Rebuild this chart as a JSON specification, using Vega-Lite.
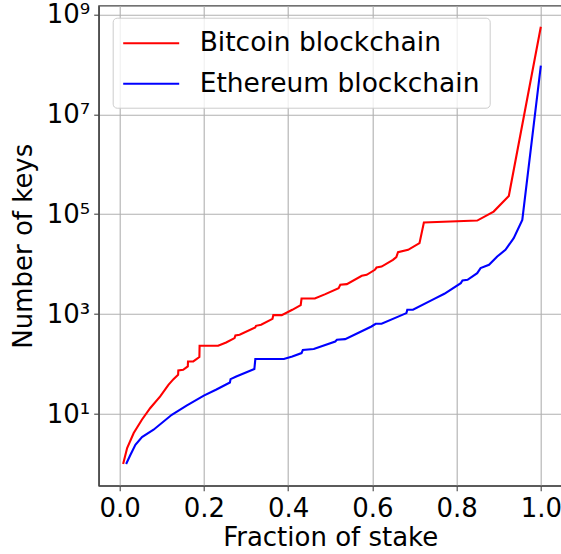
{
  "$schema": "https://vega.github.io/schema/vega-lite/v6.json",
  "width": 463,
  "height": 480,
  "autosize": "none",
  "padding": {"left": 98.7, "top": 5.7, "right": 0, "bottom": 68.3},
  "config": {
    "font": "DejaVu Sans",
    "view": {"stroke": "#444444", "strokeWidth": 1.3},
    "axis": {
      "labelFontSize": 26,
      "titleFontSize": 26,
      "titleFontWeight": "normal",
      "labelColor": "#000000",
      "titleColor": "#000000",
      "gridColor": "#b0b0b0",
      "gridWidth": 1.1,
      "domainColor": "#444444",
      "domainWidth": 1.3,
      "tickColor": "#444444",
      "tickSize": 5,
      "tickWidth": 1.1,
      "labelPadding": 5
    }
  },
  "data": {
    "values": [
      {"chain": "Bitcoin blockchain", "stake": 0.0085, "keys": 1},
      {"chain": "Bitcoin blockchain", "stake": 0.018, "keys": 2.09},
      {"chain": "Bitcoin blockchain", "stake": 0.0336, "keys": 4.17},
      {"chain": "Bitcoin blockchain", "stake": 0.053, "keys": 7.69},
      {"chain": "Bitcoin blockchain", "stake": 0.073, "keys": 13.2},
      {"chain": "Bitcoin blockchain", "stake": 0.0965, "keys": 22.5},
      {"chain": "Bitcoin blockchain", "stake": 0.116, "keys": 38.5},
      {"chain": "Bitcoin blockchain", "stake": 0.128, "keys": 50},
      {"chain": "Bitcoin blockchain", "stake": 0.139, "keys": 61.1},
      {"chain": "Bitcoin blockchain", "stake": 0.1395, "keys": 74.5},
      {"chain": "Bitcoin blockchain", "stake": 0.151, "keys": 76.9},
      {"chain": "Bitcoin blockchain", "stake": 0.162, "keys": 89.5},
      {"chain": "Bitcoin blockchain", "stake": 0.1625, "keys": 112.7},
      {"chain": "Bitcoin blockchain", "stake": 0.175, "keys": 112.7},
      {"chain": "Bitcoin blockchain", "stake": 0.1895, "keys": 138},
      {"chain": "Bitcoin blockchain", "stake": 0.19, "keys": 232},
      {"chain": "Bitcoin blockchain", "stake": 0.234, "keys": 232},
      {"chain": "Bitcoin blockchain", "stake": 0.253, "keys": 270},
      {"chain": "Bitcoin blockchain", "stake": 0.273, "keys": 331},
      {"chain": "Bitcoin blockchain", "stake": 0.275, "keys": 373},
      {"chain": "Bitcoin blockchain", "stake": 0.285, "keys": 385},
      {"chain": "Bitcoin blockchain", "stake": 0.322, "keys": 540},
      {"chain": "Bitcoin blockchain", "stake": 0.324, "keys": 583},
      {"chain": "Bitcoin blockchain", "stake": 0.336, "keys": 611},
      {"chain": "Bitcoin blockchain", "stake": 0.363, "keys": 805},
      {"chain": "Bitcoin blockchain", "stake": 0.365, "keys": 955},
      {"chain": "Bitcoin blockchain", "stake": 0.385, "keys": 955},
      {"chain": "Bitcoin blockchain", "stake": 0.41, "keys": 1219},
      {"chain": "Bitcoin blockchain", "stake": 0.43, "keys": 1514},
      {"chain": "Bitcoin blockchain", "stake": 0.432, "keys": 2051},
      {"chain": "Bitcoin blockchain", "stake": 0.4635, "keys": 2051},
      {"chain": "Bitcoin blockchain", "stake": 0.4885, "keys": 2512},
      {"chain": "Bitcoin blockchain", "stake": 0.52, "keys": 3311},
      {"chain": "Bitcoin blockchain", "stake": 0.524, "keys": 3855},
      {"chain": "Bitcoin blockchain", "stake": 0.5395, "keys": 3981},
      {"chain": "Bitcoin blockchain", "stake": 0.575, "keys": 5834},
      {"chain": "Bitcoin blockchain", "stake": 0.5866, "keys": 6109},
      {"chain": "Bitcoin blockchain", "stake": 0.606, "keys": 7691},
      {"chain": "Bitcoin blockchain", "stake": 0.61, "keys": 8551},
      {"chain": "Bitcoin blockchain", "stake": 0.622, "keys": 8954},
      {"chain": "Bitcoin blockchain", "stake": 0.649, "keys": 12190},
      {"chain": "Bitcoin blockchain", "stake": 0.657, "keys": 13800},
      {"chain": "Bitcoin blockchain", "stake": 0.661, "keys": 17380},
      {"chain": "Bitcoin blockchain", "stake": 0.685, "keys": 19320},
      {"chain": "Bitcoin blockchain", "stake": 0.712, "keys": 26300},
      {"chain": "Bitcoin blockchain", "stake": 0.7224, "keys": 67920},
      {"chain": "Bitcoin blockchain", "stake": 0.849, "keys": 74470},
      {"chain": "Bitcoin blockchain", "stake": 0.888, "keys": 112700},
      {"chain": "Bitcoin blockchain", "stake": 0.924, "keys": 232300},
      {"chain": "Bitcoin blockchain", "stake": 1.0, "keys": 565000000},
      {"chain": "Ethereum blockchain", "stake": 0.0156, "keys": 1},
      {"chain": "Ethereum blockchain", "stake": 0.0259, "keys": 1.53},
      {"chain": "Ethereum blockchain", "stake": 0.0376, "keys": 2.43},
      {"chain": "Ethereum blockchain", "stake": 0.0533, "keys": 3.47},
      {"chain": "Ethereum blockchain", "stake": 0.0807, "keys": 4.85},
      {"chain": "Ethereum blockchain", "stake": 0.124, "keys": 9.68},
      {"chain": "Ethereum blockchain", "stake": 0.159, "keys": 14.7},
      {"chain": "Ethereum blockchain", "stake": 0.2, "keys": 23.4},
      {"chain": "Ethereum blockchain", "stake": 0.23, "keys": 30.9},
      {"chain": "Ethereum blockchain", "stake": 0.262, "keys": 42.7},
      {"chain": "Ethereum blockchain", "stake": 0.2635, "keys": 50},
      {"chain": "Ethereum blockchain", "stake": 0.277, "keys": 56.5},
      {"chain": "Ethereum blockchain", "stake": 0.32, "keys": 79.4},
      {"chain": "Ethereum blockchain", "stake": 0.3223, "keys": 126},
      {"chain": "Ethereum blockchain", "stake": 0.39, "keys": 126},
      {"chain": "Ethereum blockchain", "stake": 0.41, "keys": 142},
      {"chain": "Ethereum blockchain", "stake": 0.432, "keys": 166},
      {"chain": "Ethereum blockchain", "stake": 0.435, "keys": 191},
      {"chain": "Ethereum blockchain", "stake": 0.461, "keys": 200},
      {"chain": "Ethereum blockchain", "stake": 0.512, "keys": 283},
      {"chain": "Ethereum blockchain", "stake": 0.516, "keys": 306},
      {"chain": "Ethereum blockchain", "stake": 0.5355, "keys": 316},
      {"chain": "Ethereum blockchain", "stake": 0.571, "keys": 437},
      {"chain": "Ethereum blockchain", "stake": 0.598, "keys": 565},
      {"chain": "Ethereum blockchain", "stake": 0.608, "keys": 640},
      {"chain": "Ethereum blockchain", "stake": 0.622, "keys": 640},
      {"chain": "Ethereum blockchain", "stake": 0.681, "keys": 1047},
      {"chain": "Ethereum blockchain", "stake": 0.683, "keys": 1219},
      {"chain": "Ethereum blockchain", "stake": 0.6965, "keys": 1219},
      {"chain": "Ethereum blockchain", "stake": 0.747, "keys": 2023},
      {"chain": "Ethereum blockchain", "stake": 0.771, "keys": 2547},
      {"chain": "Ethereum blockchain", "stake": 0.81, "keys": 4169},
      {"chain": "Ethereum blockchain", "stake": 0.814, "keys": 4699},
      {"chain": "Ethereum blockchain", "stake": 0.826, "keys": 4853},
      {"chain": "Ethereum blockchain", "stake": 0.849, "keys": 6607},
      {"chain": "Ethereum blockchain", "stake": 0.857, "keys": 8318},
      {"chain": "Ethereum blockchain", "stake": 0.877, "keys": 9683},
      {"chain": "Ethereum blockchain", "stake": 0.8965, "keys": 14190},
      {"chain": "Ethereum blockchain", "stake": 0.916, "keys": 19320},
      {"chain": "Ethereum blockchain", "stake": 0.9356, "keys": 33110},
      {"chain": "Ethereum blockchain", "stake": 0.956, "keys": 76910},
      {"chain": "Ethereum blockchain", "stake": 1.0, "keys": 93800000}
    ]
  },
  "mark": {"type": "line", "strokeWidth": 2.1},
  "encoding": {
    "x": {
      "field": "stake",
      "type": "quantitative",
      "scale": {"domain": [-0.0495, 1.0495], "nice": false, "zero": false},
      "axis": {"values": [0, 0.2, 0.4, 0.6, 0.8, 1.0], "format": ".1f", "title": "Fraction of stake", "titlePadding": 3}
    },
    "y": {
      "field": "keys",
      "type": "quantitative",
      "scale": {"type": "log", "domain": [0.368, 1486000000], "nice": false},
      "axis": {
        "values": [10, 1000, 100000, 10000000, 1000000000],
        "labelExpr": "'10' + ['⁰','¹','²','³','⁴','⁵','⁶','⁷','⁸','⁹'][round(log(datum.value)/LN10)]",
        "labelPadding": 4,
        "title": "Number of keys",
        "titlePadding": 10
      }
    },
    "color": {
      "field": "chain",
      "type": "nominal",
      "scale": {"domain": ["Bitcoin blockchain", "Ethereum blockchain"], "range": ["#ff0000", "#0000ff"]},
      "legend": {
        "orient": "none",
        "legendX": 14,
        "legendY": 12,
        "title": null,
        "symbolType": "M-2,0L2,0",
        "symbolSize": 784,
        "symbolStrokeWidth": 2.1,
        "symbolOffset": 13,
        "labelOffset": 33,
        "labelFontSize": 26.5,
        "labelColor": "#000000",
        "labelLimit": 0,
        "rowPadding": 11.6,
        "padding": 10,
        "fillColor": "rgba(255,255,255,0.8)",
        "strokeColor": "#cccccc",
        "cornerRadius": 4
      }
    }
  }
}
